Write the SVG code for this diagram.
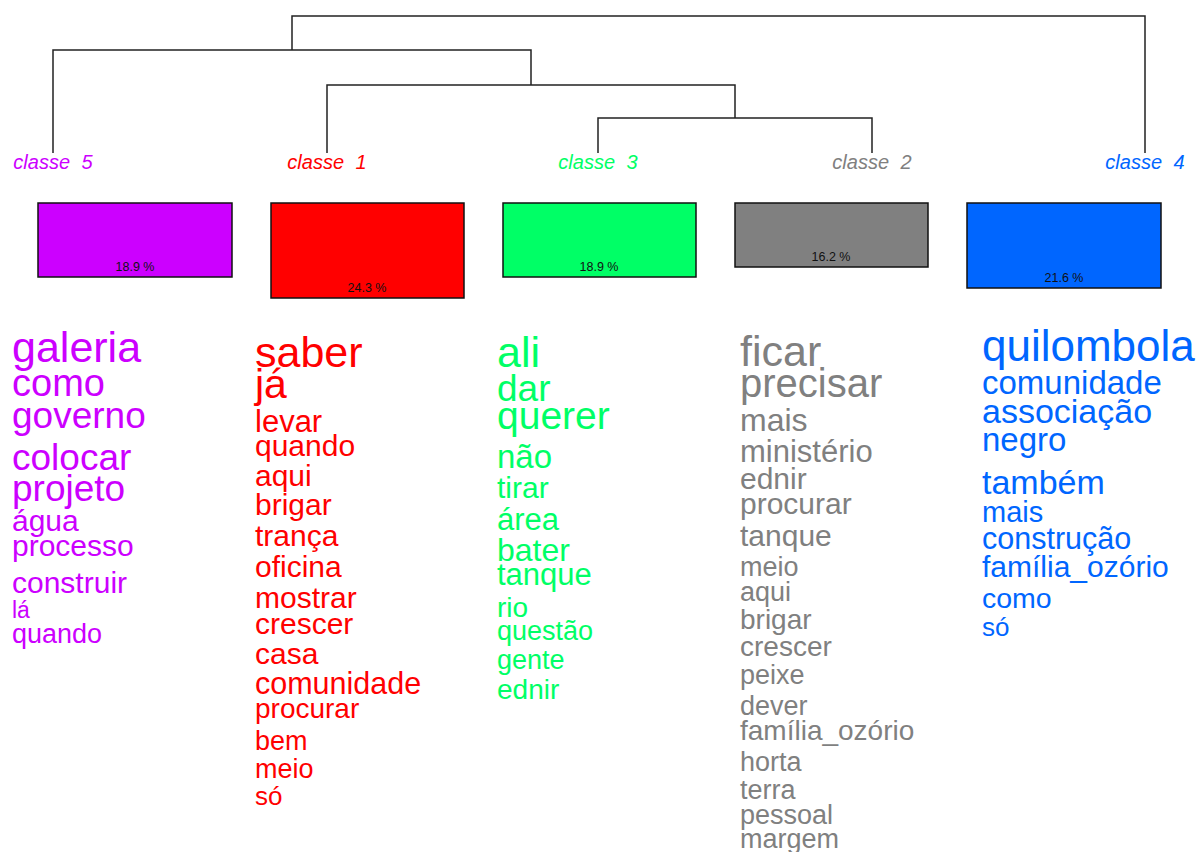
<svg xmlns="http://www.w3.org/2000/svg" width="1198" height="852" viewBox="0 0 1198 852">
<style>
text{font-family:"Liberation Sans",Arial,sans-serif}
.lbl{font-style:italic;font-size:20px;text-anchor:middle;word-spacing:6px}
.pct{font-size:12.5px;text-anchor:middle;fill:#111}
.box{stroke:#111;stroke-width:1.5}
.link{fill:none;stroke:#222;stroke-width:1.5}
.c5{fill:#CC00FF}.c1{fill:#FF0000}.c3{fill:#00FF66}.c2{fill:#808080}.c4{fill:#0066FF}
</style>
<rect width="1198" height="852" fill="#fff"/>
<g id="connectors">
<path class="link" d="M292 50V16H1145V153"/>
<path class="link" d="M53 153V50H531V85"/>
<path class="link" d="M327 153V85H735V118"/>
<path class="link" d="M598 153V118H872V153"/>
</g>
<g id="classe5" class="c5">
<text class="lbl" x="53" y="169">classe 5</text>
<rect class="box" x="38" y="203" width="194" height="74"/>
<text class="pct" x="135" y="271">18.9 %</text>
<text x="12" y="362" font-size="43">galeria</text>
<text x="12" y="396" font-size="38">como</text>
<text x="12" y="428" font-size="37">governo</text>
<text x="12" y="470" font-size="37">colocar</text>
<text x="12" y="501" font-size="37">projeto</text>
<text x="12" y="531" font-size="30">água</text>
<text x="12" y="556" font-size="30">processo</text>
<text x="12" y="593" font-size="30">construir</text>
<text x="12" y="618" font-size="23">lá</text>
<text x="12" y="643" font-size="27">quando</text>
</g>
<g id="classe1" class="c1">
<text class="lbl" x="327" y="169">classe 1</text>
<rect class="box" x="271" y="203" width="193" height="95"/>
<text class="pct" x="367" y="292">24.3 %</text>
<text x="255" y="367" font-size="43">saber</text>
<text x="255" y="398" font-size="41">já</text>
<text x="255" y="432" font-size="31">levar</text>
<text x="255" y="456" font-size="30">quando</text>
<text x="255" y="486" font-size="30">aqui</text>
<text x="255" y="515" font-size="30">brigar</text>
<text x="255" y="546" font-size="30">trança</text>
<text x="255" y="577" font-size="30">oficina</text>
<text x="255" y="608" font-size="30">mostrar</text>
<text x="255" y="634" font-size="30">crescer</text>
<text x="255" y="664" font-size="30">casa</text>
<text x="255" y="694" font-size="30.5">comunidade</text>
<text x="255" y="718" font-size="28">procurar</text>
<text x="255" y="750" font-size="27">bem</text>
<text x="255" y="778" font-size="27">meio</text>
<text x="255" y="805" font-size="26">só</text>
</g>
<g id="classe3" class="c3">
<text class="lbl" x="598" y="169">classe 3</text>
<rect class="box" x="503" y="203" width="193" height="74"/>
<text class="pct" x="599" y="271">18.9 %</text>
<text x="497" y="367" font-size="43">ali</text>
<text x="497" y="401" font-size="37">dar</text>
<text x="497" y="429" font-size="39">querer</text>
<text x="497" y="468" font-size="33">não</text>
<text x="497" y="498" font-size="30">tirar</text>
<text x="497" y="530" font-size="31">área</text>
<text x="497" y="561" font-size="32">bater</text>
<text x="497" y="585" font-size="31">tanque</text>
<text x="497" y="617" font-size="28">rio</text>
<text x="497" y="640" font-size="27">questão</text>
<text x="497" y="669" font-size="27">gente</text>
<text x="497" y="699" font-size="28">ednir</text>
</g>
<g id="classe2" class="c2">
<text class="lbl" x="872" y="169">classe 2</text>
<rect class="box" x="735" y="203" width="193" height="64"/>
<text class="pct" x="831" y="261">16.2 %</text>
<text x="740" y="366" font-size="43">ficar</text>
<text x="740" y="397" font-size="40">precisar</text>
<text x="740" y="431" font-size="32">mais</text>
<text x="740" y="462" font-size="31">ministério</text>
<text x="740" y="489" font-size="30">ednir</text>
<text x="740" y="514" font-size="30">procurar</text>
<text x="740" y="546" font-size="30">tanque</text>
<text x="740" y="576" font-size="27">meio</text>
<text x="740" y="601" font-size="27">aqui</text>
<text x="740" y="629" font-size="28">brigar</text>
<text x="740" y="656" font-size="28">crescer</text>
<text x="740" y="684" font-size="27">peixe</text>
<text x="740" y="715" font-size="27">dever</text>
<text x="740" y="740" font-size="28">família_ozório</text>
<text x="740" y="771" font-size="27">horta</text>
<text x="740" y="799" font-size="27">terra</text>
<text x="740" y="824" font-size="27">pessoal</text>
<text x="740" y="848" font-size="27">margem</text>
</g>
<g id="classe4" class="c4">
<text class="lbl" x="1145" y="169">classe 4</text>
<rect class="box" x="967" y="203" width="194" height="85"/>
<text class="pct" x="1064" y="282">21.6 %</text>
<text x="982" y="361" font-size="44">quilombola</text>
<text x="982" y="394" font-size="33">comunidade</text>
<text x="982" y="423" font-size="34">associação</text>
<text x="982" y="451" font-size="33">negro</text>
<text x="982" y="494" font-size="34">também</text>
<text x="982" y="522" font-size="29">mais</text>
<text x="982" y="549" font-size="30.5">construção</text>
<text x="982" y="577" font-size="30">família_ozório</text>
<text x="982" y="608" font-size="28.5">como</text>
<text x="982" y="636" font-size="26">só</text>
</g>
</svg>
